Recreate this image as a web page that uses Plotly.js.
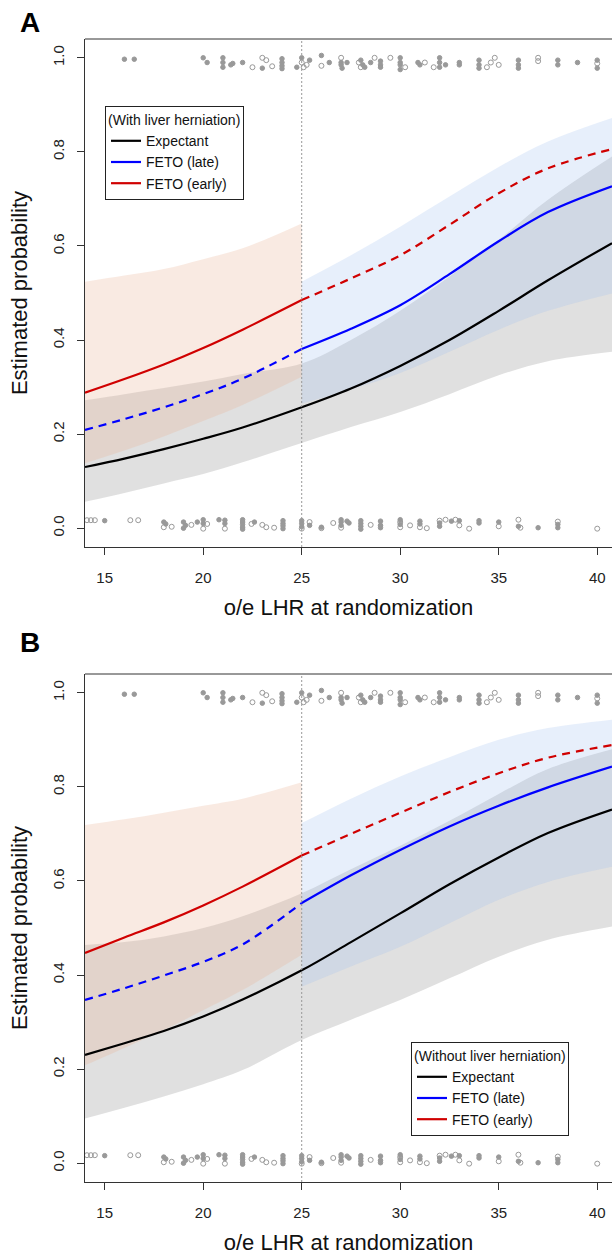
<!DOCTYPE html>
<html><head><meta charset="utf-8">
<script src="https://cdn.plot.ly/plotly-3.0.1.min.js"></script>
<style>html,body{margin:0;padding:0;background:#fff;overflow:hidden}#chart{width:612px;height:1256px}</style>
</head><body><div id="chart"></div>
<script>
// x grid of the fitted curves (o/e LHR)
const xGrid = [14, 16, 18, 20, 22, 25, 27.5, 30, 32.5, 35, 37.5, 40.75];
const xLeft = [14, 16, 18, 20, 22, 25];
const xRight = [25, 27.5, 30, 32.5, 35, 37.5, 40.75];

// Panel A: with liver herniation
const A_expectant   = [0.130, 0.148, 0.168, 0.190, 0.214, 0.257, 0.297, 0.345, 0.400, 0.462, 0.527, 0.606];
const A_expectantLo = [0.056, 0.075, 0.095, 0.115, 0.140, 0.181, 0.215, 0.247, 0.285, 0.325, 0.355, 0.375];
const A_expectantHi = [0.272, 0.285, 0.298, 0.312, 0.328, 0.350, 0.400, 0.462, 0.535, 0.613, 0.698, 0.790];
const A_late        = [0.209, 0.232, 0.257, 0.285, 0.318, 0.381, 0.424, 0.474, 0.540, 0.610, 0.672, 0.727];
const A_lateLo      = [0.265, 0.295, 0.330, 0.375, 0.422, 0.462, 0.499];
const A_lateHi      = [0.524, 0.580, 0.641, 0.705, 0.768, 0.822, 0.872];
const A_early       = [0.288, 0.317, 0.348, 0.383, 0.422, 0.485, 0.531, 0.580, 0.645, 0.712, 0.765, 0.806];
const A_earlyLo     = [0.138, 0.165, 0.195, 0.228, 0.262, 0.322];
const A_earlyHi     = [0.524, 0.537, 0.551, 0.572, 0.595, 0.648];

// Panel B: without liver herniation
const B_expectant   = [0.230, 0.255, 0.281, 0.312, 0.348, 0.410, 0.470, 0.531, 0.593, 0.650, 0.702, 0.752];
const B_expectantLo = [0.095, 0.118, 0.142, 0.168, 0.198, 0.262, 0.305, 0.347, 0.393, 0.439, 0.475, 0.503];
const B_expectantHi = [0.464, 0.470, 0.482, 0.500, 0.525, 0.574, 0.625, 0.675, 0.728, 0.785, 0.838, 0.880];
const B_late        = [0.347, 0.372, 0.399, 0.428, 0.465, 0.553, 0.612, 0.666, 0.716, 0.760, 0.799, 0.843];
const B_lateLo      = [0.375, 0.418, 0.460, 0.510, 0.560, 0.598, 0.630];
const B_lateHi      = [0.723, 0.775, 0.822, 0.863, 0.900, 0.925, 0.943];
const B_early       = [0.447, 0.480, 0.512, 0.548, 0.588, 0.654, 0.700, 0.745, 0.789, 0.829, 0.862, 0.889];
const B_earlyLo     = [0.208, 0.245, 0.283, 0.325, 0.368, 0.443];
const B_earlyHi     = [0.719, 0.731, 0.745, 0.760, 0.775, 0.810];

// Observed outcomes (jittered), same in both panels
const top_filled_x = [16.0,16.5,20.0,20.2,21.0,21.0,21.0,21.4,21.5,22.0,23.0,24.0,24.0,24.0,24.0,24.75,25.0,25.4,26.0,26.4,27.0,27.0,27.05,27.3,28.0,28.1,28.2,28.5,29.0,29.0,29.0,30.0,30.0,30.0,30.0,30.9,31.0,32.0,32.0,32.0,32.3,33.0,33.0,34.0,34.0,34.0,36.0,36.0,36.0,38.0,38.0,39.0,40.0,40.0];
const top_filled_y = [0.997,0.997,1.0,0.99,1.0,0.99,0.98,0.985,0.988,0.99,0.978,0.998,0.99,0.983,0.977,0.98,1.0,0.995,1.005,0.99,0.99,0.985,0.978,0.99,0.995,0.985,0.98,0.99,0.993,0.985,0.98,1.0,0.99,0.985,0.975,0.99,0.985,1.0,0.99,0.98,0.985,0.99,0.985,0.995,0.985,0.978,0.995,0.985,0.978,0.995,0.985,0.99,0.995,0.978];
const top_open_x = [22.5,23.0,23.2,23.5,25.0,25.1,25.25,26.0,27.0,27.9,28.0,28.7,29.5,30.25,31.25,31.7,34.4,34.6,34.8,35.0,37.0,37.0,40.0];
const top_open_y = [0.98,1.0,0.995,0.982,0.99,0.98,0.985,0.983,1.0,0.99,0.98,1.0,1.0,0.98,0.99,0.98,0.98,0.99,1.0,0.985,1.0,0.993,0.988];
const bot_filled_x = [15.0,18.0,18.1,19.0,19.1,19.0,19.7,20.0,20.0,20.8,21.1,21.1,22.0,22.0,22.0,22.0,22.0,22.6,24.05,24.05,24.05,24.05,25.0,25.0,25.0,25.4,26.0,27.0,27.0,27.0,27.3,27.4,28.0,28.0,28.0,28.0,29.0,29.0,29.0,30.0,30.0,31.0,31.0,32.0,32.0,32.6,33.0,34.0,34.0,35.0,36.0,37.0,38.0,38.0];
const bot_filled_y = [0.016,0.013,0.009,0.013,0.006,0.0,0.013,0.018,0.01,0.018,0.017,0.01,0.018,0.013,0.008,0.002,-0.002,0.013,0.016,0.01,0.005,-0.001,0.016,0.01,0.003,0.006,0.002,0.018,0.013,0.006,0.015,0.011,0.016,0.01,0.004,-0.002,0.015,0.006,0.001,0.018,0.008,0.015,0.009,0.011,0.004,0.015,0.016,0.016,0.011,0.013,0.004,0.001,0.008,0.001];
const bot_open_x = [14.1,14.3,14.5,16.3,16.7,18.0,18.4,19.4,20.2,20.0,21.1,22.45,23.0,23.2,23.6,25.0,25.4,26.0,26.6,27.0,28.5,30.0,30.0,30.5,31.0,31.35,32.0,32.3,32.8,33.0,33.5,35.0,36.0,36.1,38.0,40.0];
const bot_open_y = [0.017,0.017,0.017,0.017,0.017,0.002,0.003,0.007,0.009,-0.001,-0.001,0.009,0.007,0.002,0.001,-0.001,0.013,0.0,0.011,0.001,0.007,0.013,0.002,0.006,0.002,0.0,0.016,0.018,0.018,0.006,-0.001,0.004,0.018,0.001,0.014,-0.001];

const legendTitles = ['(With liver herniation)', '(Without liver herniation)'];
const seriesNames = ['Expectant', 'FETO (late)', 'FETO (early)'];

const FONT = 'Liberation Sans, Arial, sans-serif';
const C_BLACK = '#000000', C_BLUE = '#0000ff', C_RED = '#d00000';
const F_GRAY = 'rgba(170,170,170,0.36)', F_BLUE = 'rgba(160,190,240,0.25)', F_PEACH = 'rgba(232,180,150,0.28)';
const DASH = '8px,6px';

function band(x, lo, hi, color, xa, ya) {
  return [
    {x: x, y: lo, xaxis: xa, yaxis: ya, mode: 'lines', line: {width: 0, color: color, shape: 'spline', smoothing: 1}, showlegend: false, hoverinfo: 'skip'},
    {x: x, y: hi, xaxis: xa, yaxis: ya, mode: 'lines', line: {width: 0, color: color, shape: 'spline', smoothing: 1}, fill: 'tonexty', fillcolor: color, showlegend: false, hoverinfo: 'skip'}
  ];
}
function line(x, y, color, dash, xa, ya, name, lg, show) {
  return {x: x, y: y, xaxis: xa, yaxis: ya, mode: 'lines', name: name, legend: lg, showlegend: show,
          line: {color: color, width: 2.2, dash: dash, shape: 'spline', smoothing: 1}, hoverinfo: 'skip'};
}
function pts(x, y, symbol, size, xa, ya) {
  return {x: x, y: y, xaxis: xa, yaxis: ya, mode: 'markers', showlegend: false, hoverinfo: 'skip',
          marker: {symbol: symbol, size: size, color: '#999999', line: {color: '#999999', width: 1}}};
}
function panel(d, xa, ya, lg) {
  const t = [];
  t.push(...band(xGrid, d.expLo, d.expHi, F_GRAY, xa, ya));
  t.push(...band(xLeft, d.earlyLo, d.earlyHi, F_PEACH, xa, ya));
  t.push(...band(xRight, d.lateLo, d.lateHi, F_BLUE, xa, ya));
  t.push(pts(top_filled_x, top_filled_y, 'circle', 4.5, xa, ya));
  t.push(pts(top_open_x, top_open_y, 'circle-open', 5, xa, ya));
  t.push(pts(bot_filled_x, bot_filled_y, 'circle', 4.5, xa, ya));
  t.push(pts(bot_open_x, bot_open_y, 'circle-open', 5, xa, ya));
  t.push(line(xGrid, d.exp, C_BLACK, 'solid', xa, ya, seriesNames[0], lg, true));
  t.push(line(xRight, d.late.slice(5), C_BLUE, 'solid', xa, ya, seriesNames[1], lg, true));
  t.push(line(xLeft, d.early.slice(0, 6), C_RED, 'solid', xa, ya, seriesNames[2], lg, true));
  t.push(line(xLeft, d.late.slice(0, 6), C_BLUE, DASH, xa, ya, seriesNames[1], lg, false));
  t.push(line(xRight, d.early.slice(5), C_RED, DASH, xa, ya, seriesNames[2], lg, false));
  return t;
}

const traces = [
  ...panel({exp: A_expectant, expLo: A_expectantLo, expHi: A_expectantHi, late: A_late, lateLo: A_lateLo, lateHi: A_lateHi,
            early: A_early, earlyLo: A_earlyLo, earlyHi: A_earlyHi}, 'x', 'y', 'legend'),
  ...panel({exp: B_expectant, expLo: B_expectantLo, expHi: B_expectantHi, late: B_late, lateLo: B_lateLo, lateHi: B_lateHi,
            early: B_early, earlyLo: B_earlyLo, earlyHi: B_earlyHi}, 'x2', 'y2', 'legend2')
];

const H = 1256;
function xax(anchor) {
  return {anchor: anchor, domain: [0, 1], range: [14, 40.75], tick0: 0, dtick: 5, ticks: 'outside', ticklen: 7,
          tickcolor: '#333', showline: true, linecolor: '#333', linewidth: 1, showgrid: false, zeroline: false,
          ticklabelstandoff: 10, tickfont: {size: 15, color: '#222'},
          title: {text: 'o/e LHR at randomization', font: {size: 22, color: '#111'}, standoff: 14}};
}
function yax(anchor, domain) {
  return {anchor: anchor, domain: domain, range: [-0.04, 1.04], tick0: 0, dtick: 0.2, tickformat: '.1f', ticks: 'outside',
          ticklen: 7, tickcolor: '#333', showline: true, linecolor: '#333', linewidth: 1, showgrid: false, zeroline: false,
          tickangle: -90, ticklabelstandoff: 7, tickfont: {size: 15, color: '#222'},
          title: {text: 'Estimated probability', font: {size: 22, color: '#111'}, standoff: 16}};
}
function legendBox(x, y, title) {
  return {x: x, y: y, xanchor: 'left', yanchor: 'top', bgcolor: '#fff', bordercolor: '#222', borderwidth: 1,
          traceorder: 'normal', font: {size: 14, color: '#111'}, itemwidth: 30, tracegroupgap: 0,
          title: {text: title, side: 'top', font: {size: 14, color: '#111'}}};
}
function vline(xa, ya) {
  return {type: 'line', xref: xa, yref: ya + ' domain', x0: 25, x1: 25, y0: 0, y1: 1, layer: 'above',
          line: {color: '#999999', width: 1, dash: '2px,2px'}};
}
function topline(xa, ya) {
  return {type: 'line', xref: xa + ' domain', yref: ya + ' domain', x0: 0, x1: 1, y0: 1, y1: 1,
          line: {color: '#333', width: 1}};
}

const layout = {
  width: 612, height: H, margin: {l: 85, r: 0, t: 0, b: 0}, paper_bgcolor: '#fff', plot_bgcolor: '#fff',
  font: {family: FONT, color: '#111'},
  xaxis: xax('y'), yaxis: yax('x', [1 - 547 / H, 1 - 39 / H]),
  xaxis2: xax('y2'), yaxis2: yax('x2', [1 - 1182 / H, 1 - 674 / H]),
  legend: legendBox(0.038, 1 - 106 / H, legendTitles[0]),
  legend2: legendBox(0.6186, 1 - 1042 / H, legendTitles[1]),
  shapes: [vline('x', 'y'), vline('x2', 'y2'), topline('x', 'y'), topline('x2', 'y2')],
  annotations: [
    {text: '<b>A</b>', xref: 'paper', yref: 'paper', x: -0.104, y: 1 - 22 / H, xanchor: 'center', yanchor: 'middle', showarrow: false, font: {size: 28, color: '#000'}},
    {text: '<b>B</b>', xref: 'paper', yref: 'paper', x: -0.104, y: 1 - 642 / H, xanchor: 'center', yanchor: 'middle', showarrow: false, font: {size: 28, color: '#000'}}
  ]
};
Plotly.newPlot('chart', traces, layout, {staticPlot: true, displayModeBar: false});
</script></body></html>
